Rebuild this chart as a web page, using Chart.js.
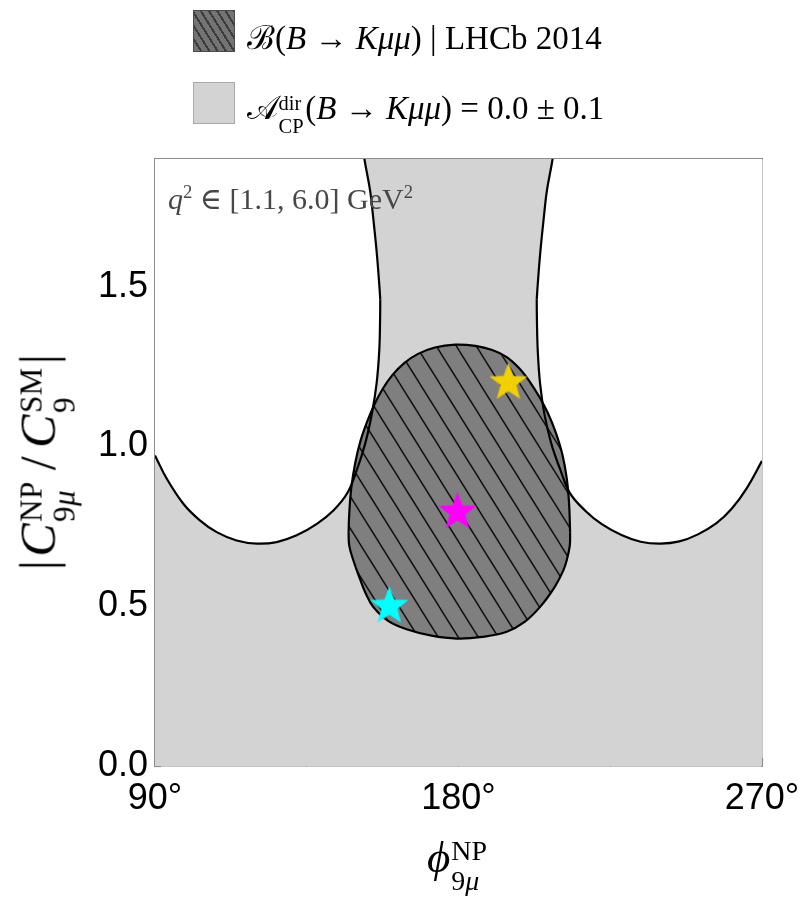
<!DOCTYPE html>
<html>
<head>
<meta charset="utf-8">
<script src="https://cdn.jsdelivr.net/npm/chart.js@4.4.1/dist/chart.umd.min.js"></script>
<style>
  html, body { margin: 0; padding: 0; background: #fff; }
  #wrap { position: relative; width: 803px; height: 898px; overflow: hidden; }
  #c { position: absolute; left: 0; top: 0; }
  .txt { position: absolute; font-family: "Liberation Serif", "DejaVu Serif", serif; color: #000; white-space: nowrap; line-height: 1; }
  .sw { position: absolute; width: 42px; height: 42px; box-sizing: border-box; }
  .ss { display: inline-flex; flex-direction: column; font-size: 0.62em; line-height: 1.08; vertical-align: 0.42em; text-align: left; margin-left: 0.03em; }
  .ss span { display: block; }
  i { font-style: italic; }
</style>
</head>
<body>
<div id="wrap">
  <canvas id="c" width="803" height="898"></canvas>

  <div class="sw" style="left:193px;top:10px;border:1.5px solid #4a4a4a;background:repeating-linear-gradient(58deg,#747474 0px,#747474 5px,#3c3c3c 5px,#3c3c3c 7px);"></div>
  <div class="txt" id="leg1" style="left:247px;top:22px;font-size:33px;">ℬ(<i>B</i> → <i>Kμμ</i>) | LHCb 2014</div>

  <div class="sw" style="left:193px;top:82px;border:1.5px solid #a8a8a8;background:#d3d3d3;"></div>
  <div class="txt" id="leg2" style="left:247px;top:92px;font-size:33px;">𝒜<span class="ss" style="margin-right:0.08em;"><span>dir</span><span>CP</span></span>(<i>B</i> → <i>Kμμ</i>) = 0.0 ± 0.1</div>

  <div class="txt" id="q2" style="left:168px;top:183px;font-size:30px;color:#474747;"><i>q</i><sup style="font-size:0.62em;">2</sup> ∈ [1.1, 6.0] GeV<sup style="font-size:0.62em;">2</sup></div>

  <div class="txt" id="ytitle" style="left:47px;top:462px;font-size:50px;letter-spacing:0.01em;transform:translate(-50%,-50%) rotate(-90deg);">|<i style="margin-left:0.06em;">C</i><span class="ss"><span>NP</span><span>9<i>μ</i></span></span><span style="margin:0 0.16em 0 0.22em;">/</span><i>C</i><span class="ss"><span>SM</span><span>9</span></span><span style="margin-left:0.06em;">|</span></div>

  <div class="txt" id="xtitle" style="left:457px;top:866px;font-size:45px;transform:translate(-50%,-50%);"><i>ϕ</i><span class="ss"><span>NP</span><span>9<i>μ</i></span></span></div>
</div>

<script>
// ---------------- data ----------------
// light-gray constraint: two excluded (white) regions, each between a lower curve and an upper curve (upper runs above the frame)
const leftLowerX  = [90, 93.5, 98.4, 103.3, 108.3, 114.2, 120.2, 126.1, 132.0, 138.0, 142.9, 146.9, 149.8, 152.3, 154.3, 155.7, 156.5, 156.75, 156.8];
const leftLowerY  = [0.972, 0.899, 0.821, 0.769, 0.732, 0.706, 0.696, 0.701, 0.722, 0.758, 0.800, 0.852, 0.925, 1.008, 1.102, 1.196, 1.300, 1.400, 1.460];
const leftUpperX  = [90, 120, 145.1, 149.3, 152.1, 153.8, 154.7, 155.7, 156.5, 156.8];
const leftUpperY  = [2.3, 2.3, 2.3, 2.1, 1.9, 1.80, 1.717, 1.613, 1.508, 1.460];

const rightLowerX = [203.2, 203.25, 203.5, 204.2, 205.5, 207.5, 210.1, 213.0, 217.5, 222.5, 228.5, 234.0, 239.8, 245.5, 251.0, 256.5, 261.0, 265.5, 270];
const rightLowerY = [1.460, 1.400, 1.300, 1.196, 1.100, 1.010, 0.930, 0.855, 0.800, 0.757, 0.722, 0.702, 0.696, 0.703, 0.725, 0.760, 0.805, 0.870, 0.955];
const rightUpperX = [203.2, 203.5, 204.3, 205.3, 206.2, 207.9, 210.7, 214.9, 240, 270];
const rightUpperY = [1.460, 1.508, 1.613, 1.717, 1.800, 1.9, 2.1, 2.3, 2.3, 2.3];

// hatched branching-ratio region (closed contour split into upper and lower arcs)
const eggUpperX = [147.4, 147.6, 148.2, 149.4, 151.0, 152.8, 155.0, 157.5, 160.5, 164.0, 168.0, 173.0, 179.0, 185.0, 190.0, 194.3, 198.0, 201.0, 204.0, 206.5, 208.8, 210.8, 212.1, 212.8, 213.1];
const eggUpperY = [0.730, 0.790, 0.870, 0.950, 1.020, 1.075, 1.130, 1.180, 1.225, 1.262, 1.290, 1.310, 1.319, 1.315, 1.302, 1.280, 1.245, 1.205, 1.155, 1.105, 1.045, 0.975, 0.900, 0.820, 0.730];
const eggLowerX = [147.4, 147.6, 148.8, 150.8, 152.5, 154.7, 159.0, 164.6, 172.0, 179.5, 187.0, 194.3, 199.5, 204.2, 208.5, 211.0, 212.1, 213.0, 213.1];
const eggLowerY = [0.730, 0.690, 0.644, 0.585, 0.540, 0.498, 0.455, 0.428, 0.408, 0.399, 0.404, 0.420, 0.450, 0.498, 0.560, 0.610, 0.644, 0.690, 0.730];

// benchmark points
const starX = [194.8, 179.7, 159.5];
const starY = [1.20, 0.795, 0.50];
const starColors = ['#f0d000', '#ff00ff', '#00ffff'];

// axis ticks
const xTickStep = 45;
const yTickStep = 0.1;

// ---------------- helpers ----------------
const pts = (xs, ys) => xs.map((x, i) => ({x: x, y: ys[i]}));

function makeHatch() {
  const w = 20, h = 32;
  const c = document.createElement('canvas');
  c.width = w; c.height = h;
  const g = c.getContext('2d');
  g.fillStyle = '#7f7f7f';
  g.fillRect(0, 0, w, h);
  g.strokeStyle = '#111';
  g.lineWidth = 1.5;
  for (let k = -1; k <= 1; k++) {
    g.beginPath();
    g.moveTo(k * w - w, -h);
    g.lineTo(k * w + 2 * w, 2 * h);
    g.stroke();
  }
  return document.getElementById('c').getContext('2d').createPattern(c, 'repeat');
}

function makeStar(color, R) {
  const s = Math.ceil(2 * R + 4);
  const c = document.createElement('canvas');
  c.width = s; c.height = s;
  const g = c.getContext('2d');
  const cx = s / 2, cy = s / 2, r = R * 0.42;
  g.beginPath();
  for (let i = 0; i < 10; i++) {
    const rad = i % 2 === 0 ? R : r;
    const a = -Math.PI / 2 + i * Math.PI / 5;
    const px = cx + rad * Math.cos(a), py = cy + rad * Math.sin(a);
    if (i === 0) g.moveTo(px, py); else g.lineTo(px, py);
  }
  g.closePath();
  g.fillStyle = color;
  g.fill();
  return c;
}

const hatch = makeHatch();
const starImgs = starColors.map(c => makeStar(c, 20));

const curveBase = {
  pointRadius: 0,
  borderColor: '#000',
  borderWidth: 2.2,
  tension: 0.4,
  cubicInterpolationMode: 'default',
  capBezierPoints: false,
  showLine: true
};

const datasets = [
  { // 0 stars
    data: pts(starX, starY),
    showLine: false,
    pointStyle: starImgs,
    pointRadius: 20,
    order: 0
  },
  Object.assign({}, curveBase, { // 1 egg upper
    data: pts(eggUpperX, eggUpperY),
    fill: '+1',
    backgroundColor: hatch,
    order: 2
  }),
  Object.assign({}, curveBase, { // 2 egg lower
    data: pts(eggLowerX, eggLowerY),
    fill: false,
    order: 2
  }),
  Object.assign({}, curveBase, { // 3 left white lower
    data: pts(leftLowerX, leftLowerY),
    fill: '+1',
    backgroundColor: '#ffffff',
    order: 4
  }),
  Object.assign({}, curveBase, { // 4 left white upper
    data: pts(leftUpperX, leftUpperY),
    fill: false,
    order: 4
  }),
  Object.assign({}, curveBase, { // 5 right white lower
    data: pts(rightLowerX, rightLowerY),
    fill: '+1',
    backgroundColor: '#ffffff',
    order: 4
  }),
  Object.assign({}, curveBase, { // 6 right white upper
    data: pts(rightUpperX, rightUpperY),
    fill: false,
    order: 4
  }),
  { // 7 light gray allowed region background
    data: [{x: 90, y: 1.9}, {x: 270, y: 1.9}],
    showLine: true,
    pointRadius: 0,
    borderWidth: 0,
    borderColor: 'rgba(0,0,0,0)',
    fill: 'origin',
    backgroundColor: '#d3d3d3',
    order: 10
  }
];

const frame = { display: true, color: '#8c8c8c', width: 1.5 };

new Chart(document.getElementById('c'), {
  type: 'line',
  data: { datasets: datasets },
  options: {
    responsive: false,
    animation: false,
    events: [],
    layout: { padding: { left: 0, top: 159, right: 41, bottom: 0 } },
    plugins: {
      legend: { display: false },
      tooltip: { enabled: false },
      filler: { drawTime: 'beforeDatasetsDraw' }
    },
    scales: {
      x: {
        type: 'linear', position: 'bottom', min: 90, max: 270,
        afterFit: s => { s.height = 132; s.paddingLeft = 0; s.paddingRight = 0; },
        ticks: {
          stepSize: xTickStep, autoSkip: false, maxRotation: 0, padding: 19,
          color: '#000',
          font: { family: '"Liberation Sans", Arial, sans-serif', size: 36 },
          callback: v => (Math.round(v) % 90 === 0) ? Math.round(v) + '°' : ''
        },
        grid: { display: true, drawOnChartArea: false, drawTicks: true, tickLength: -8, tickColor: '#8c8c8c', tickWidth: 1.2 },
        border: frame
      },
      y: {
        type: 'linear', position: 'left', min: 0, max: 1.9,
        afterFit: s => { s.width = 155; s.paddingTop = 0; s.paddingBottom = 0; },
        ticks: {
          stepSize: yTickStep, autoSkip: false, padding: 13,
          color: '#000',
          font: { family: '"Liberation Sans", Arial, sans-serif', size: 36 },
          callback: v => { const r = Math.round(v * 10); return r % 5 === 0 ? (r / 10).toFixed(1) : ''; }
        },
        grid: { display: true, drawOnChartArea: false, drawTicks: true, tickLength: -6, tickColor: '#8c8c8c', tickWidth: 1.2 },
        border: frame
      },
      x2: {
        type: 'linear', position: 'top', min: 90, max: 270,
        afterFit: s => { s.height = 0; s.paddingLeft = 0; s.paddingRight = 0; },
        ticks: { display: false },
        grid: { display: false },
        border: frame
      },
      y2: {
        type: 'linear', position: 'right', min: 0, max: 1.9,
        afterFit: s => { s.width = 0; s.paddingTop = 0; s.paddingBottom = 0; },
        ticks: { display: false },
        grid: { display: false },
        border: frame
      }
    }
  }
});
</script>
</body>
</html>
